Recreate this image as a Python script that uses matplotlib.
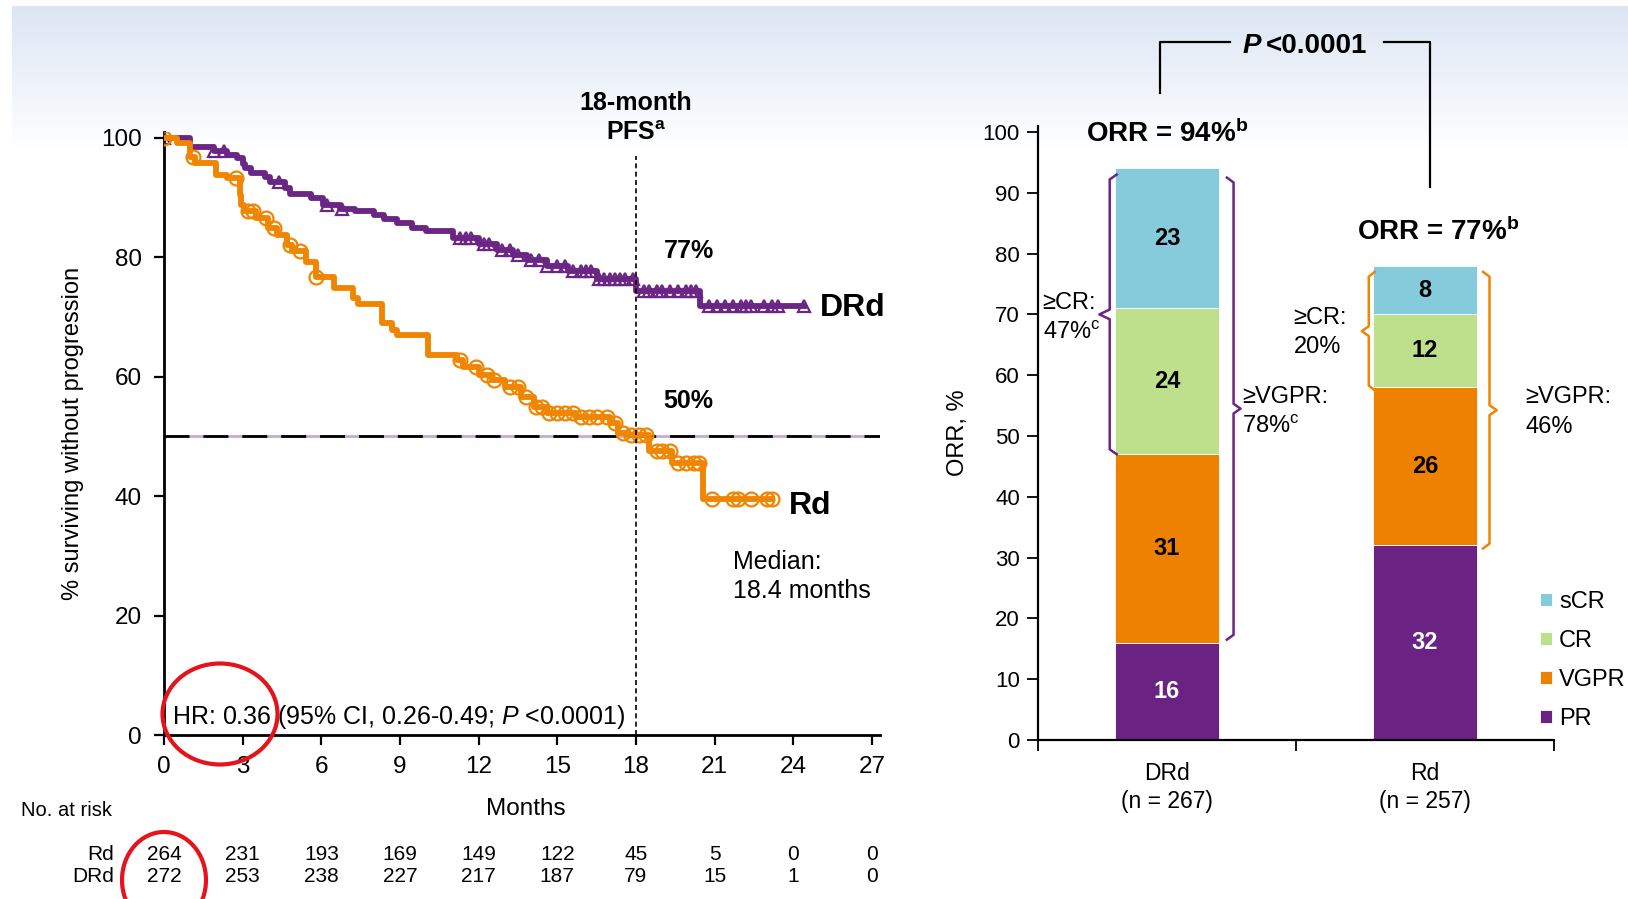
import numpy as np
import matplotlib.pyplot as plt
from matplotlib.patches import Ellipse
from matplotlib.lines import Line2D
from matplotlib.transforms import blended_transform_factory

plt.rcParams['font.family'] = ['Liberation Sans', 'DejaVu Sans']
plt.rcParams['mathtext.fontset'] = 'custom'
plt.rcParams['mathtext.rm'] = 'Liberation Sans'
plt.rcParams['mathtext.it'] = 'Liberation Sans:italic'
plt.rcParams['mathtext.bf'] = 'Liberation Sans:bold'

# ---- PFS curves (Kaplan-Meier steps) ----
drd_t = [0, 1.0, 1.9, 2.4, 2.8, 3.0, 3.1, 3.3, 3.85, 4.05, 4.6, 4.8, 5.6, 6.07, 6.7, 7.3, 8.0,
         8.4, 8.9, 9.45, 10.0, 11.03, 12.0, 12.7, 13.3, 13.83, 14.6, 15.4, 16.5, 18.0, 20.45, 24.4]
drd_s = [100, 98.5, 97.8, 97.2, 96.6, 95.6, 94.9, 94.1, 93.4, 92.7, 91.6, 90.6, 89.9, 88.8, 88.1,
         87.7, 87.1, 86.4, 85.8, 85.0, 84.4, 83.2, 82.2, 81.2, 80.4, 79.6, 78.6, 77.7, 76.4, 74.3,
         71.9, 71.9]
drd_cens = [0, 1.9, 2.3, 4.4, 6.2, 6.8, 11.3, 11.5, 11.7, 12.2, 12.4, 12.9, 13.2, 13.5, 14.0,
            14.3, 14.6, 15.0, 15.3, 15.6, 15.9, 16.1, 16.3, 16.6, 16.8, 17.0, 17.2, 17.4, 17.6,
            17.9, 18.3, 18.5, 18.8, 19.0, 19.3, 19.6, 19.9, 20.1, 20.3, 20.8, 21.1, 21.4, 21.7,
            22.0, 22.2, 22.4, 22.9, 23.2, 23.4, 24.4]

rd_t = [0, 0.48, 1.0, 1.18, 2.0, 2.4, 2.9, 2.95, 3.05, 3.5, 3.98, 4.3, 4.7, 4.9, 5.4, 5.8, 6.5,
        7.2, 7.4, 8.3, 8.7, 8.9, 10.07, 11.16, 11.4, 12.0, 12.5, 13.0, 13.6, 14.1, 14.6, 15.7,
        17.0, 17.3, 17.7, 18.5, 19.36, 20.57, 23.2]
rd_s = [100, 99.1, 96.9, 95.8, 93.8, 93.3, 90.5, 88.8, 87.7, 86.6, 84.9, 83.8, 82.1, 81.0, 79.3,
        76.8, 74.9, 73.2, 72.2, 69.0, 67.8, 67.0, 63.7, 62.8, 61.7, 60.3, 59.5, 58.3, 56.7, 55.0,
        53.9, 53.3, 52.2, 50.6, 50.2, 47.5, 45.5, 39.6, 39.6]
rd_cens = [0, 1.1, 2.75, 3.2, 3.4, 3.9, 4.2, 4.8, 5.2, 5.8, 11.3, 11.9, 12.3, 12.6, 13.2, 13.5,
           13.8, 14.2, 14.4, 14.7, 15.0, 15.3, 15.6, 15.9, 16.2, 16.5, 16.9, 17.2, 17.5, 17.8,
           18.1, 18.4, 18.8, 19.0, 19.3, 19.6, 19.9, 20.2, 20.4, 20.9, 21.7, 21.9, 22.4, 23.0, 23.2]

risk_months = [0, 3, 6, 9, 12, 15, 18, 21, 24, 27]
risk_rd = [264, 231, 193, 169, 149, 122, 45, 5, 0, 0]
risk_drd = [272, 253, 238, 227, 217, 187, 79, 15, 1, 0]

# ---- response bars ----
arms = ['DRd\n(n = 267)', 'Rd\n(n = 257)']
responses = ['PR', 'VGPR', 'CR', 'sCR']
resp_values = {'PR': [16, 32], 'VGPR': [31, 26], 'CR': [24, 12], 'sCR': [23, 8]}
orr_labels = ['ORR = 94%$^\\mathregular{b}$', 'ORR = 77%$^\\mathregular{b}$']
orr_totals = [94, 77]

purple = '#6B2585'
orange = '#EF8500'
bar_colors = {'PR': '#6A2383', 'VGPR': '#EE8200', 'CR': '#BEE08C', 'sCR': '#85CBDC'}

W, H = 1628, 899


def fxy(x, y):
    return x / W, 1 - y / H


def step_value(t, s, times):
    idx = np.searchsorted(t, times, side='right') - 1
    return np.asarray(s)[idx]


fig = plt.figure(figsize=(W / 100, H / 100), dpi=100)

# light blue header band
bg = fig.add_axes([12 / W, 1 - 150 / H, 1 - 12 / W, 144 / H], zorder=-10)
grad = np.linspace(0, 1, 100)[:, None]
top_c = np.array([0.86, 0.90, 0.955])
img = top_c[None, None, :] * (1 - grad[:, :, None]) + np.ones(3)[None, None, :] * grad[:, :, None]
bg.imshow(img, aspect='auto', extent=[0, 1, 0, 1])
bg.axis('off')

# ================= left: PFS =================
ax = fig.add_axes([164 / W, 1 - 735 / H, 27.3 * 26.22 / W, 101 * 5.97 / H])
ax.set_facecolor('none')
ax.axhline(50, color='#C7A9D8', lw=2, zorder=1)
ax.axhline(50, color='black', lw=2, dashes=(9, 5), zorder=1.1)
ax.plot([18, 18], [0, 97], color='black', lw=1.2, ls=(0, (3, 2)), clip_on=False, zorder=5)

ax.step(drd_t, drd_s, where='post', color=purple, lw=4.2, zorder=3)
ax.plot(drd_cens, step_value(drd_t, drd_s, drd_cens), ls='none', marker='^', ms=9,
        mfc='none', mec=purple, mew=1.6, zorder=3)
ax.step(rd_t, rd_s, where='post', color=orange, lw=4.2, zorder=4)
ax.plot(rd_cens, step_value(rd_t, rd_s, rd_cens), ls='none', marker='o', ms=10,
        mfc='none', mec=orange, mew=1.6, zorder=4)

ax.set_xlim(0, 27.3)
ax.set_ylim(0, 101)
ax.set_xticks(risk_months)
ax.set_yticks([0, 20, 40, 60, 80, 100])
for s in ['top', 'right']:
    ax.spines[s].set_visible(False)
for s in ['left', 'bottom']:
    ax.spines[s].set_linewidth(2)
ax.tick_params(direction='out', length=7, width=1.6, labelsize=17.5)
ax.tick_params(axis='y', pad=9)
ax.tick_params(axis='x', pad=8)
ax.set_ylabel('% surviving without progression', fontsize=17, labelpad=12)

ax.text(18, 105.9, '18-month', ha='center', va='center', fontsize=18, fontweight='bold')
ax.text(18, 100.8, 'PFS$^\\mathregular{a}$', ha='center', va='center', fontsize=18,
        fontweight='bold')
ax.text(19.05, 81, '77%', ha='left', va='center', fontsize=18, fontweight='bold')
ax.text(19.05, 56, '50%', ha='left', va='center', fontsize=18, fontweight='bold')
ax.text(25.0, 71.5, 'DRd', ha='left', va='center', fontsize=23, fontweight='bold')
ax.text(23.85, 38.4, 'Rd', ha='left', va='center', fontsize=23, fontweight='bold')
ax.text(21.7, 26.5, 'Median:\n18.4 months', ha='left', va='center', fontsize=18,
        linespacing=1.25)
ax.text(0.3, 3.0, 'HR: 0.36 (95% CI, 0.26-0.49; $\\mathit{P}$ <0.0001)', ha='left',
        va='center', fontsize=18)

# at-risk table
tr = blended_transform_factory(ax.transData, fig.transFigure)
fig.text(21 / W, 1 - 811 / H, 'No. at risk', ha='left', va='center', fontsize=14.5)
ax.text(13.8, 1 - 809 / H, 'Months', transform=tr, ha='center', va='center', fontsize=17.5)
fig.text(114 / W, 1 - 854 / H, 'Rd', ha='right', va='center', fontsize=15)
fig.text(114 / W, 1 - 877 / H, 'DRd', ha='right', va='center', fontsize=15)
for m, a, b in zip(risk_months, risk_rd, risk_drd):
    ax.text(m, 1 - 854 / H, str(a), transform=tr, ha='center', va='center', fontsize=15)
    ax.text(m, 1 - 877 / H, str(b), transform=tr, ha='center', va='center', fontsize=15)

# red highlight ellipses
fig.add_artist(Ellipse(fxy(220, 714), 115 / W, 101 / H, transform=fig.transFigure,
                       fill=False, ec='#E5141C', lw=3, zorder=10))
fig.add_artist(Ellipse(fxy(164, 880), 84 / W, 96 / H, transform=fig.transFigure,
                       fill=False, ec='#E5141C', lw=3, zorder=10))

# ================= right: response =================
ax2 = fig.add_axes([1038 / W, 1 - 740 / H, 516 / W, 101 * 6.08 / H])
ax2.set_facecolor('none')
x = np.arange(len(arms))
bottom = np.zeros(len(arms))
handles = []
for r in responses:
    vals = np.array(resp_values[r])
    bars = ax2.bar(x, vals, width=0.4, bottom=bottom, color=bar_colors[r], label=r,
                   edgecolor='white', linewidth=0.6)
    handles.append(bars)
    for xi, v, b0 in zip(x, vals, bottom):
        ax2.text(xi, b0 + v / 2, str(v), ha='center', va='center', fontsize=17,
                 fontweight='bold', color='white' if r == 'PR' else 'black')
    bottom = bottom + vals

ax2.set_xlim(-0.5, 1.5)
ax2.set_ylim(0, 101)
ax2.set_yticks(range(0, 101, 10))
ax2.set_xticks(x)
ax2.set_xticklabels(arms, fontsize=16.5, linespacing=1.25)
ax2.set_xticks([-0.5, 0.5, 1.5], minor=True)
ax2.tick_params(axis='x', which='major', length=0, pad=16)
ax2.tick_params(axis='x', which='minor', length=8, width=1.3, direction='out')
ax2.tick_params(axis='y', length=8, width=1.3, direction='out', labelsize=16, pad=5)
for s in ['top', 'right']:
    ax2.spines[s].set_visible(False)
for s in ['left', 'bottom']:
    ax2.spines[s].set_linewidth(1.6)
ax2.set_ylabel('ORR, %', fontsize=17, labelpad=10)

ax2.text(0, orr_totals[0] + 3.3, orr_labels[0], ha='center', va='bottom', fontsize=20,
         fontweight='bold')
ax2.text(1.05, orr_totals[1] + 4.3, orr_labels[1], ha='center', va='bottom', fontsize=20,
         fontweight='bold')


def brace(axis, xline, xhook, xtip, y0, y1, color):
    ym = (y0 + y1) / 2
    d = 0.8
    xs = [xhook, xline, xline, xtip, xline, xline, xhook]
    ys = [y1, y1 - d, ym + d, ym, ym - d, y0 + d, y0]
    axis.plot(xs, ys, color=color, lw=1.8, clip_on=False, solid_joinstyle='round')


brace(ax2, -0.222, -0.195, -0.262, 47, 93, purple)
brace(ax2, 0.258, 0.232, 0.285, 16.5, 92.5, purple)
brace(ax2, 0.782, 0.805, 0.755, 57.5, 77, orange)
brace(ax2, 1.25, 1.225, 1.278, 31.5, 77, orange)

ax2.text(-0.482, 69.4, '\u2265CR:\n47%$^\\mathregular{c}$', ha='left', va='center', fontsize=17,
         linespacing=1.45)
ax2.text(0.29, 54.0, '\u2265VGPR:\n78%$^\\mathregular{c}$', ha='left', va='center',
         fontsize=17, linespacing=1.45)
ax2.text(0.49, 67.0, '\u2265CR:\n20%', ha='left', va='center', fontsize=17, linespacing=1.4)
ax2.text(1.39, 54.0, '\u2265VGPR:\n46%', ha='left', va='center', fontsize=17, linespacing=1.45)

ax2.legend(handles[::-1], responses[::-1], loc='upper left', bbox_to_anchor=fxy(1540, 591),
           bbox_transform=fig.transFigure, frameon=False, fontsize=17, handlelength=0.5,
           handleheight=0.5, handletextpad=0.3, labelspacing=0.72, borderpad=0,
           borderaxespad=0)

# P-value bracket over both bars
for xs, ys in [([1160, 1160, 1230], [93, 42, 42]), ([1384, 1430, 1430], [42, 42, 187])]:
    fig.add_artist(Line2D([v / W for v in xs], [1 - v / H for v in ys], color='black',
                          lw=1.6, transform=fig.transFigure))
fig.text(1261 / W, 1 - 46 / H, 'P', ha='right', va='center', fontsize=20, fontweight='bold',
         fontstyle='italic')
fig.text(1266 / W, 1 - 46 / H, '<0.0001', ha='left', va='center', fontsize=20,
         fontweight='bold')

fig.savefig('out.png', dpi=100)
